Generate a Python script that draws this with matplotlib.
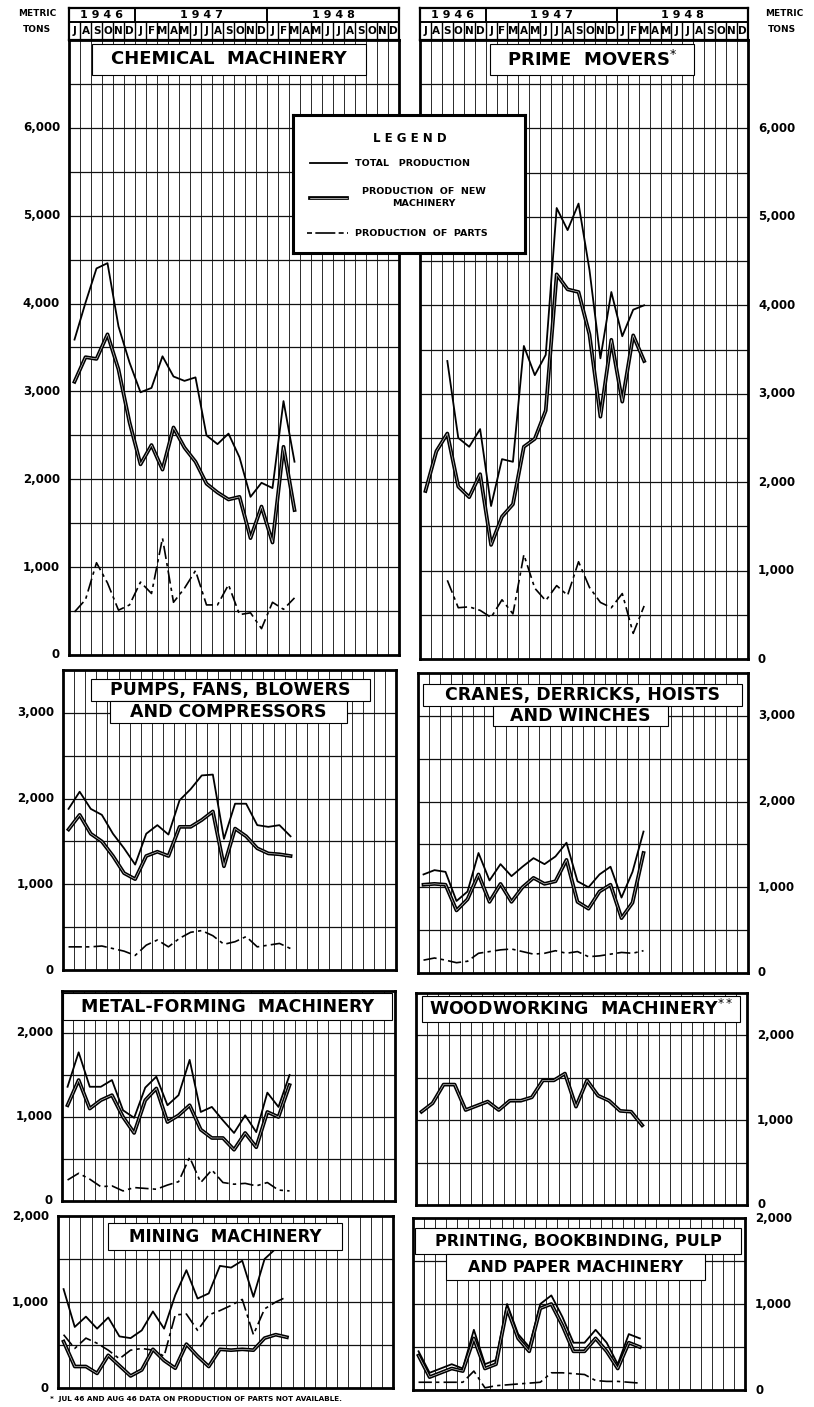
import numpy as np
import matplotlib
matplotlib.use("Agg")
import matplotlib.pyplot as plt
from matplotlib.patches import Rectangle
from matplotlib.transforms import blended_transform_factory

W, H = 814, 1407

month_letters = list("JASONDJFMAMJJASONDJFMAMJJASOND")
year_names = ["1 9 4 6", "1 9 4 7", "1 9 4 8"]
year_spans = [(0, 6), (6, 18), (18, 30)]

# metric tons per month, Jul 1946 - Mar 1948
chem_total = [3590, 4010, 4400, 4460, 3740, 3330, 2990, 3040, 3400, 3170, 3120, 3160,
              2500, 2400, 2520, 2250, 1800, 1960, 1900, 2890, 2200]
chem_new = [3110, 3390, 3370, 3650, 3250, 2650, 2170, 2390, 2110, 2590, 2360, 2200,
            1950, 1850, 1770, 1800, 1330, 1690, 1280, 2370, 1650]
chem_parts = [490, 630, 1050, 820, 510, 570, 830, 700, 1330, 600, 760, 960,
              570, 570, 800, 460, 480, 300, 600, 520, 650]

# prime movers: total and parts from Sep 1946
prime_total = [3370, 2500, 2400, 2600, 1730, 2260, 2230, 3540, 3210, 3440,
               5100, 4850, 5150, 4400, 3400, 4150, 3650, 3950, 4000]
prime_new = [1900, 2350, 2550, 1950, 1830, 2090, 1290, 1610, 1750, 2400, 2490, 2810,
             4350, 4180, 4150, 3670, 2740, 3610, 2910, 3660, 3370]
prime_parts = [890, 580, 590, 550, 470, 670, 510, 1180, 800, 660,
               830, 720, 1100, 810, 640, 580, 740, 290, 600]

pumps_total = [1880, 2080, 1880, 1810, 1590, 1420, 1230, 1590, 1690, 1580, 1980, 2110,
               2270, 2280, 1530, 1940, 1940, 1690, 1670, 1690, 1560]
pumps_new = [1640, 1810, 1590, 1500, 1330, 1130, 1060, 1330, 1380, 1330, 1670, 1670,
             1750, 1850, 1210, 1650, 1560, 1420, 1360, 1350, 1330]
pumps_parts = [270, 270, 270, 280, 250, 220, 170, 290, 350, 270, 370, 440,
               460, 400, 300, 330, 390, 270, 290, 310, 250]

cranes_total = [1150, 1200, 1180, 840, 950, 1400, 1080, 1270, 1130, 1240, 1340, 1270,
                1360, 1520, 1070, 1000, 1150, 1240, 880, 1180, 1650]
cranes_new = [1030, 1040, 1030, 730, 860, 1150, 830, 1040, 830, 1000, 1110, 1040,
              1070, 1320, 830, 750, 950, 1030, 640, 820, 1400]
cranes_parts = [150, 175, 150, 120, 137, 230, 250, 270, 280, 250, 220, 230,
                260, 230, 250, 190, 200, 220, 240, 230, 260]

metal_total = [1360, 1770, 1360, 1360, 1440, 1080, 990, 1350, 1480, 1140, 1260, 1680,
               1060, 1120, 960, 810, 1020, 820, 1290, 1120, 1500]
metal_new = [1140, 1440, 1100, 1200, 1260, 1000, 810, 1200, 1340, 940, 1020, 1140,
             850, 750, 750, 610, 810, 640, 1060, 1000, 1380]
metal_parts = [250, 330, 260, 170, 180, 120, 160, 150, 140, 190, 230, 520,
               220, 370, 220, 200, 210, 180, 220, 130, 120]

wood_total = [1100, 1200, 1420, 1420, 1120, 1170, 1220, 1120, 1230, 1230, 1270, 1470,
              1470, 1550, 1160, 1470, 1290, 1230, 1110, 1100, 940]

mining_total = [1150, 710, 830, 690, 820, 600, 580, 670, 890, 690, 1080, 1370,
                1040, 1100, 1420, 1400, 1480, 1060, 1500, 1620, 1650]
mining_new = [540, 250, 250, 170, 380, 260, 140, 210, 450, 320, 230, 510,
              370, 250, 450, 440, 450, 440, 580, 620, 590]
mining_parts = [620, 460, 580, 520, 440, 340, 440, 460, 440, 370, 850, 860,
                670, 850, 900, 960, 1030, 620, 920, 1000, 1060]

print_total = [450, 200, 250, 300, 250, 700, 300, 350, 1000, 650, 500, 1000,
               1100, 850, 550, 550, 700, 550, 300, 650, 600]
print_new = [400, 150, 200, 250, 220, 600, 250, 300, 950, 600, 450, 950,
             1000, 750, 450, 450, 600, 450, 250, 550, 500]
print_parts = [90, 90, 90, 90, 90, 220, 25, 50, 60, 70, 80, 90,
               200, 200, 190, 180, 110, 100, 100, 90, 80]

fig = plt.figure(figsize=(W / 100, H / 100), dpi=100)
fig.patch.set_facecolor("white")

DASH = (8, 2.5, 2, 2.5)


def rect(x0, y0, x1, y1):
    return [x0 / W, 1 - y1 / H, (x1 - x0) / W, (y1 - y0) / H]


def fx(px):
    return px / W


def fy(py):
    return 1 - py / H


def panel(box, ymax, label_side, label_max):
    ax = fig.add_axes(rect(*box))
    ax.set_xlim(0, 30)
    ax.set_ylim(0, ymax)
    for k in range(1, 30):
        ax.axvline(k, color="#2a2a2a", lw=0.7, zorder=1)
    for v in np.arange(500, ymax, 500):
        ax.axhline(v, color="#111111", lw=0.9, zorder=1)
    ax.set_xticks([])
    ax.set_yticks([])
    for s in ax.spines.values():
        s.set_linewidth(2)
    tr = blended_transform_factory(fig.transFigure, ax.transData)
    for v in range(0, label_max + 1, 1000):
        txt = f"{v:,}"
        if label_side == "left":
            ax.text(fx(box[0] - 9), v, txt, transform=tr, ha="right", va="center",
                    fontsize=8.5, fontweight="bold")
        else:
            ax.text(fx(box[2] + 10), v, txt, transform=tr, ha="left", va="center",
                    fontsize=8.5, fontweight="bold")
    return ax


def title(lines, boxes, size=12.5):
    # white label boxes (pixel coords) with the lettering centred in them
    for line, (x0, y0, x1, y1) in zip(lines, boxes):
        fig.add_artist(Rectangle((fx(x0), fy(y1)), (x1 - x0) / W, (y1 - y0) / H,
                                 transform=fig.transFigure, facecolor="white",
                                 edgecolor="black", lw=0.8, zorder=2))
        fig.text(fx((x0 + x1) / 2), fy((y0 + y1) / 2), line, ha="center", va="center",
                 fontsize=size, fontweight="bold", zorder=3)


def draw(ax, total=None, new=None, parts=None, start_total=0, start_parts=0):
    if total is not None:
        x = np.arange(len(total)) + 0.5 + start_total
        ax.plot(x, total, color="black", lw=1.3, zorder=3)
    if new is not None:
        x = np.arange(len(new)) + 0.5
        ax.plot(x, new, color="black", lw=2.7, zorder=4)
        ax.plot(x, new, color="white", lw=0.45, alpha=0.85, zorder=4)
    if parts is not None:
        x = np.arange(len(parts)) + 0.5 + start_parts
        ax.plot(x, parts, color="black", lw=1.2, dashes=DASH, zorder=3)


def header(x0, x1):
    hx = fig.add_axes(rect(x0, 8, x1, 40))
    hx.set_xlim(0, 30)
    hx.set_ylim(0, 32)
    hx.set_xticks([])
    hx.set_yticks([])
    for s in hx.spines.values():
        s.set_linewidth(1.6)
    hx.axhline(18, color="black", lw=1.4)
    for k in range(1, 30):
        hx.plot([k, k], [0, 18], color="black", lw=1.0)
    for k in (6, 18):
        hx.plot([k, k], [18, 32], color="black", lw=1.4)
    for (a, b), name in zip(year_spans, year_names):
        hx.text((a + b) / 2, 25, name, ha="center", va="center", fontsize=8, fontweight="bold")
    for k, m in enumerate(month_letters):
        hx.text(k + 0.5, 9, m, ha="center", va="center", fontsize=7.5, fontweight="bold")


# row 1
ax1 = panel((69, 40, 399, 655), 7000, "left", 6000)
draw(ax1, chem_total, chem_new, chem_parts)
header(69, 399)

ax2 = panel((420, 40, 748, 659), 7000, "right", 6000)
draw(ax2, prime_total, prime_new, prime_parts, start_total=2, start_parts=2)
header(420, 748)

title(["CHEMICAL  MACHINERY"], [(92, 44, 366, 75)], size=13)
title(["PRIME  MOVERS$^{*}$"], [(490, 44, 694, 75)], size=13)

for x, txt, y in [(37, "METRIC", 14), (37, "TONS", 29), (784, "METRIC", 14), (782, "TONS", 29)]:
    fig.text(fx(x), fy(y), txt, ha="center", va="center", fontsize=6.5, fontweight="bold")

# row 2
ax3 = panel((63, 670, 396, 970), 3500, "left", 3000)
draw(ax3, pumps_total, pumps_new, pumps_parts)
title(["PUMPS, FANS, BLOWERS", "AND COMPRESSORS"], [(91, 679, 370, 701), (110, 701, 347, 723)])

ax4 = panel((418, 673, 748, 973), 3500, "right", 3000)
draw(ax4, cranes_total, cranes_new, cranes_parts)
title(["CRANES, DERRICKS, HOISTS", "AND WINCHES"], [(423, 684, 742, 706), (493, 706, 668, 726)])

# row 3
ax5 = panel((62, 991, 395, 1201), 2500, "left", 2000)
draw(ax5, metal_total, metal_new, metal_parts)
title(["METAL-FORMING  MACHINERY"], [(63, 993, 392, 1020)])

ax6 = panel((416, 993, 747, 1205), 2500, "right", 2000)
draw(ax6, None, wood_total, None)
title(["WOODWORKING  MACHINERY$^{**}$"], [(422, 996, 740, 1022)], size=12.5)

# row 4
ax7 = panel((58, 1216, 393, 1388), 2000, "left", 2000)
draw(ax7, mining_total, mining_new, mining_parts)
title(["MINING  MACHINERY"], [(108, 1223, 342, 1250)], size=12)

ax8 = panel((413, 1218, 745, 1390), 2000, "right", 2000)
draw(ax8, print_total, print_new, print_parts)
title(["PRINTING, BOOKBINDING, PULP", "AND PAPER MACHINERY"],
      [(415, 1228, 741, 1254), (446, 1254, 705, 1280)], size=11.5)

fig.text(fx(50), fy(1399), "*  JUL 46 AND AUG 46 DATA ON PRODUCTION OF PARTS NOT AVAILABLE.",
         ha="left", va="center", fontsize=5.2, fontweight="bold")

# legend
lg = fig.add_axes(rect(293, 115, 525, 253))
lg.set_zorder(10)
lg.set_xlim(293, 525)
lg.set_ylim(253, 115)
lg.set_xticks([])
lg.set_yticks([])
lg.set_facecolor("white")
for s in lg.spines.values():
    s.set_linewidth(2.2)
lg.text(410, 138, "L E G E N D", ha="center", va="center", fontsize=8.5, fontweight="bold")
lg.plot([310, 347], [163, 163], color="black", lw=1.3)
lg.text(355, 163, "TOTAL   PRODUCTION", ha="left", va="center", fontsize=6.8, fontweight="bold")
lg.plot([310, 347], [198, 198], color="black", lw=2.7)
lg.plot([310, 347], [198, 198], color="white", lw=0.45)
lg.text(424, 191, "PRODUCTION  OF  NEW", ha="center", va="center", fontsize=6.8, fontweight="bold")
lg.text(424, 204, "MACHINERY", ha="center", va="center", fontsize=6.8, fontweight="bold")
lg.plot([307, 348], [233, 233], color="black", lw=1.2, dashes=(3, 2, 12, 2))
lg.text(355, 233, "PRODUCTION  OF  PARTS", ha="left", va="center", fontsize=6.8, fontweight="bold")

fig.savefig("out.png", dpi=100, facecolor="white")
